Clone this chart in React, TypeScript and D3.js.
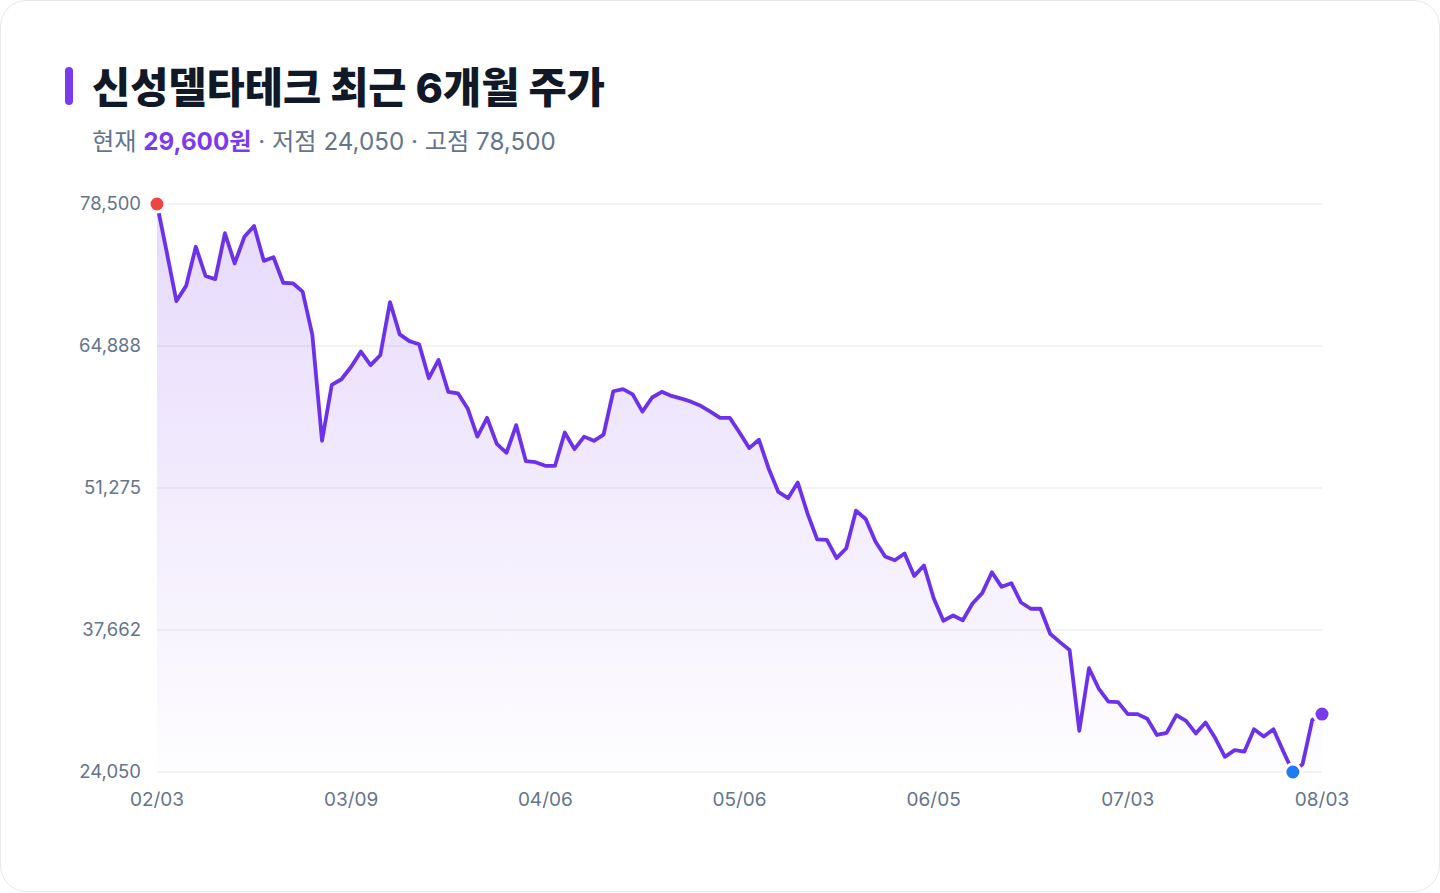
import React from 'react';
import * as d3 from 'd3';

const prices = [
  78500, 73900, 69200, 70650, 74400, 71600, 71300, 75700, 72800, 75350,
  76400, 73050, 73400, 70950, 70900, 70100, 65950, 55800, 61150, 61700,
  62900, 64350, 63050, 64000, 69100, 66000, 65350, 65050, 61800, 63550,
  60500, 60350, 58900, 56200, 58000, 55500, 54650, 57300, 53850, 53750,
  53400, 53400, 56600, 55000, 56200, 55800, 56400, 60550, 60750, 60250,
  58600, 59950, 60500, 60100, 59850, 59550, 59150, 58600, 58000, 58000,
  56600, 55100, 55900, 53150, 50900, 50300, 51800, 48850, 46350, 46300,
  44550, 45500, 49100, 48300, 46150, 44700, 44350, 45000, 42850, 43850,
  40700, 38550, 39050, 38600, 40200, 41200, 43200, 41800, 42150, 40300,
  39700, 39700, 37300, 36500, 35750, 28000, 34000, 32050, 30800, 30750,
  29600, 29600, 29150, 27600, 27800, 29500, 28950, 27750, 28800, 27300,
  25500, 26150, 26000, 28150, 27450, 28150, 26050, 24050, 24800, 29050,
  29600,
];

const dateTicks = ['02/03', '03/09', '04/06', '05/06', '06/05', '07/03', '08/03'];
const tickEvery = 20;

const W = 1440;
const H = 893;
const plot = { left: 157, right: 1322, top: 204, bottom: 772 };
const FONT = "Inter, 'Noto Sans CJK KR', 'Noto Sans', sans-serif";

// round half to even, so 37,662.5 -> 37,662 and 64,887.5 -> 64,888
const roundEven = (v: number) => {
  const f = Math.floor(v);
  const diff = v - f;
  if (diff > 0.5) return f + 1;
  if (diff < 0.5) return f;
  return f % 2 === 0 ? f : f + 1;
};

const App = () => {
  const lo = d3.min(prices) as number;
  const hi = d3.max(prices) as number;
  const last = prices[prices.length - 1];

  const x = d3.scaleLinear().domain([0, prices.length - 1]).range([plot.left, plot.right]);
  const y = d3.scaleLinear().domain([lo, hi]).range([plot.bottom, plot.top]);
  const yTicks = d3.range(5).map(i => lo + ((hi - lo) * i) / 4);

  const line = d3.line<number>().x((_, i) => x(i)).y(d => y(d));
  const area = d3.area<number>().x((_, i) => x(i)).y0(plot.bottom).y1(d => y(d));

  const hiIdx = prices.indexOf(hi);
  const loIdx = prices.indexOf(lo);
  const fmt = d3.format(',.0f');

  return (
    <svg width={W} height={H} style={{ position: 'absolute', left: 0, top: 0, fontFamily: FONT }}>
      <defs>
        <linearGradient id="fillGrad" x1="0" y1="0" x2="0" y2="1">
          <stop offset="0%" stopColor="#7c3aed" stopOpacity={0.19} />
          <stop offset="100%" stopColor="#7c3aed" stopOpacity={0.01} />
        </linearGradient>
      </defs>
      <rect x={0.5} y={0.5} width={W - 1} height={H - 2} rx={26} fill="#fff" stroke="#e5e7eb" />

      <rect x={65} y={67} width={8} height={38} rx={4} fill="#7c3aed" />
      <text x={92} y={103} fontSize={41.5} fontWeight={800} fill="#111827">
        신성델타테크 최근 6개월 주가
      </text>
      <text x={92} y={150} fontSize={24.2} fill="#64748b">
        현재 <tspan fontWeight={700} fill="#7c3aed">{fmt(last)}원</tspan>
        {` · 저점 ${fmt(lo)} · 고점 ${fmt(hi)}`}
      </text>

      {yTicks.map(t => (
        <g key={t}>
          <line x1={plot.left} x2={plot.right} y1={y(t)} y2={y(t)} stroke="#e5e7eb" />
          <text x={141} y={y(t)} dy="0.35em" textAnchor="end" fontSize={18.5} fill="#64748b">
            {fmt(roundEven(t))}
          </text>
        </g>
      ))}

      {dateTicks.map((d, i) => (
        <text key={d} x={x(i * tickEvery)} y={806} textAnchor="middle" fontSize={19} fill="#64748b">
          {d}
        </text>
      ))}

      <path d={area(prices) as string} fill="url(#fillGrad)" />
      <path
        d={line(prices) as string}
        fill="none"
        stroke="#6d31ea"
        strokeWidth={3.8}
        strokeLinejoin="round"
        strokeLinecap="round"
      />

      <circle cx={x(hiIdx)} cy={y(hi)} r={8} fill="#ef4444" stroke="#fff" strokeWidth={3} />
      <circle cx={x(loIdx)} cy={y(lo)} r={8} fill="#1f7bf2" stroke="#fff" strokeWidth={3} />
      <circle cx={x(prices.length - 1)} cy={y(last)} r={8} fill="#7c3aed" stroke="#fff" strokeWidth={3} />
    </svg>
  );
};

export default App;
